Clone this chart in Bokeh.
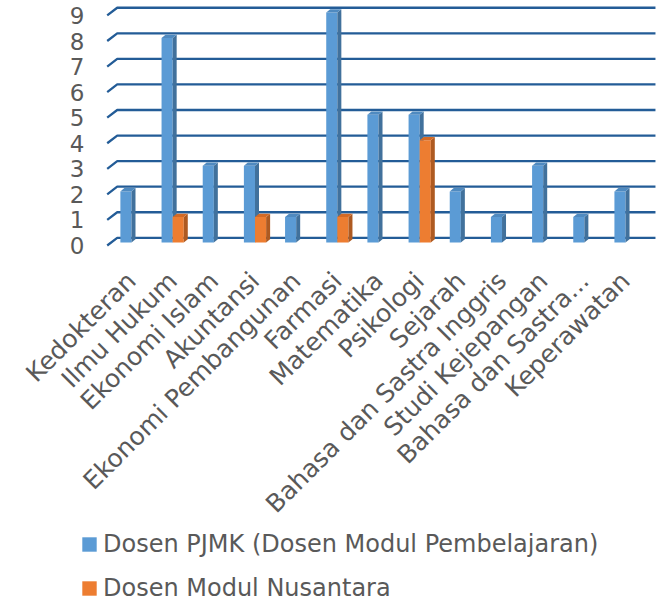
import numpy as np
from bokeh.plotting import figure
from bokeh.models import Range1d, Legend, LegendItem
from bokeh.core.properties import value
from bokeh.embed import file_html
from bokeh.resources import INLINE

# ---------------- data ----------------
categories = ["Kedokteran", "Ilmu Hukum", "Ekonomi Islam", "Akuntansi",
              "Ekonomi Pembangunan", "Farmasi", "Matematika", "Psikologi",
              "Sejarah", "Bahasa dan Sastra Inggris", "Studi Kejepangan",
              "Bahasa dan Sastra...", "Keperawatan"]
pjmk = [2, 8, 3, 3, 1, 9, 5, 5, 2, 1, 3, 1, 2]
nusantara = [0, 1, 0, 1, 0, 1, 0, 4, 0, 0, 0, 0, 0]
y_ticks = [0, 1, 2, 3, 4, 5, 6, 7, 8, 9]
series_names = ["Dosen PJMK (Dosen Modul Pembelajaran)", "Dosen Modul Nusantara"]

# ---------------- style / layout ----------------
FONT = "DejaVu Sans"
TXT = "#595959"
GRID = "#235C97"
W, H = 663, 601
UX, UY = 41.17, 25.56          # pixels per category / per unit
CX0, CY0 = 131.0, 245.0        # pixel position of category 0 centre / value 0
XS, XE = -CX0 / UX, (W - CX0) / UX
YE, YS = CY0 / UY, (CY0 - H) / UY
X0, X1 = -0.59, 12.727         # plot-wall extent (front left .. back right)
BAR_W = 0.27
OFFS = 0.135
BASE = 0.117
DX, DY = 0.097, 0.129
WALL_DX, WALL_DY = 0.243, 0.301
YLAB_X = (84 - CX0) / UX       # right edge of value labels
XLAB_Y = (CY0 - 276) / UY      # anchor of category labels

p = figure(width=W, height=H, output_backend="svg", toolbar_location=None,
           x_range=Range1d(XS, XE), y_range=Range1d(YS, YE),
           min_border_left=0, min_border_right=0, min_border_top=0,
           min_border_bottom=0)
p.outline_line_color = None
p.grid.visible = False
p.xaxis.visible = False
p.yaxis.visible = False
p.background_fill_color = "white"

# back-wall gridlines (3D look)
gx = [[X0, X0 + WALL_DX, X1] for k in y_ticks]
gy = [[k, k + WALL_DY, k + WALL_DY] for k in y_ticks]
p.multi_line(xs=gx, ys=gy, line_color=GRID, line_width=2.3)


def bars(vals, offset, front, side, topc):
    idx = [i for i, v in enumerate(vals) if v > 0]
    xc = [i + offset for i in idx]
    tops = [vals[i] + BASE for i in idx]
    r = p.vbar(x=xc, width=BAR_W, bottom=BASE, top=tops,
               fill_color=front, line_color=None)
    sxs, sys_, txs, tys = [], [], [], []
    for x, t in zip(xc, tops):
        xl, xr = x - BAR_W / 2, x + BAR_W / 2
        sxs.append([xr, xr + DX, xr + DX, xr])
        sys_.append([BASE, BASE + DY, t + DY, t])
        txs.append([xl, xl + DX, xr + DX, xr])
        tys.append([t, t + DY, t + DY, t])
    p.patches(xs=sxs, ys=sys_, fill_color=side, line_color=None)
    p.patches(xs=txs, ys=tys, fill_color=topc, line_color=None)
    return r


r1 = bars(pjmk, -OFFS, "#5B9BD5", "#41719C", "#4F8AC0")
r2 = bars(nusantara, OFFS, "#ED7D31", "#AE5A21", "#D46A25")

# value labels (y axis)
p.text(x=[YLAB_X] * len(y_ticks), y=y_ticks, text=[str(k) for k in y_ticks],
       text_align="right", text_baseline="middle", text_font=value(FONT),
       text_font_size="23px", text_color=TXT)

# category labels (x axis), rotated 45 degrees
p.text(x=list(range(len(categories))), y=[XLAB_Y] * len(categories),
       text=categories, angle=np.pi / 4, text_align="right",
       text_baseline="middle", text_font=value(FONT),
       text_font_size="25px", text_color=TXT)

legend = Legend(items=[LegendItem(label=series_names[0], renderers=[r1]),
                       LegendItem(label=series_names[1], renderers=[r2])],
                orientation="vertical", location=(80, -3),
                glyph_width=18, glyph_height=18, label_standoff=5,
                label_height=32, spacing=12, padding=0, margin=0,
                border_line_color=None, background_fill_alpha=0,
                label_text_font=FONT, label_text_font_size="24px",
                label_text_color=TXT)
p.add_layout(legend, "center")

open("out.html", "w").write(file_html(p, INLINE))
